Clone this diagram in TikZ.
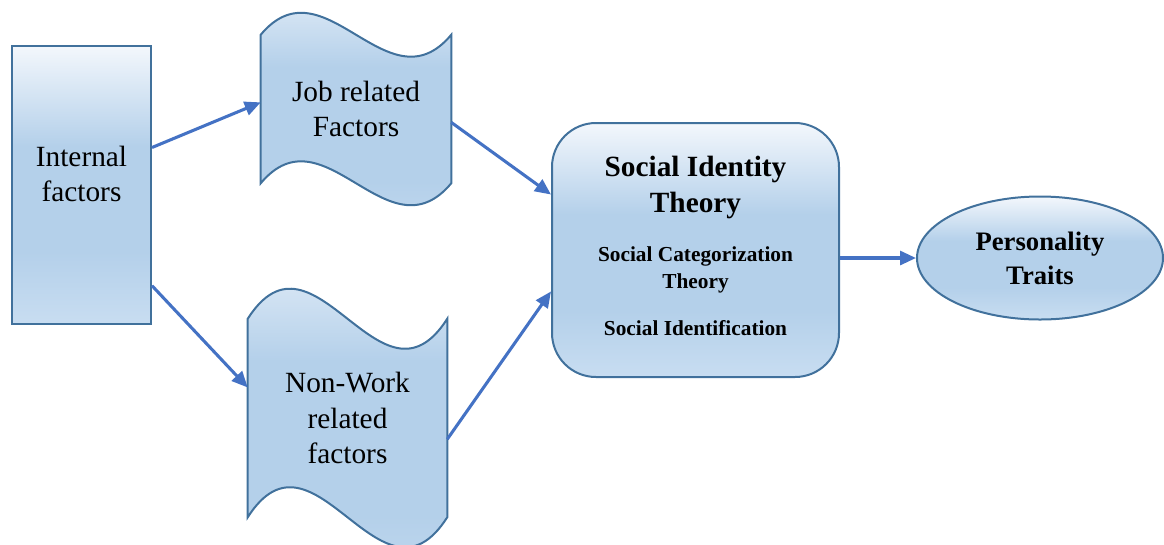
\documentclass[tikz,border=0pt]{standalone}
\usepackage{fontspec}
\setmainfont{Liberation Serif}
\usepackage{tikz}
\usetikzlibrary{arrows.meta, shapes.geometric, calc, backgrounds}

\definecolor{boxline}{RGB}{65,113,156}
\definecolor{flowblue}{RGB}{68,114,196}
\definecolor{filltop}{RGB}{243,247,252}
\definecolor{fillmid}{RGB}{180,208,234}
\definecolor{fillbot}{RGB}{200,221,241}

% light blue fill, white at the top
\pgfdeclareverticalshading{lightblue}{100bp}{color(0bp)=(fillbot); color(25bp)=(fillbot);
  color(38bp)=(fillmid); color(57bp)=(fillmid); color(75bp)=(filltop); color(100bp)=(filltop)}

% wavy outline drawn round a borderless node, #2 = how far the waves swing
\newcommand{\waveshape}[2]{%
  \path[wave] (#1.north west)
    .. controls ($(#1.north west)!1/3!(#1.north east)+(0,-#2)$)
           and ($(#1.north west)!2/3!(#1.north east)+(0,#2)$) .. (#1.north east)
    -- (#1.south east)
    .. controls ($(#1.south west)!2/3!(#1.south east)+(0,#2)$)
           and ($(#1.south west)!1/3!(#1.south east)+(0,-#2)$) .. (#1.south west)
    -- cycle;}

\begin{document}
\begin{tikzpicture}[x=0.75pt,y=-0.75pt,>={Triangle[length=12pt,width=10.5pt]},
                    font=\fontsize{22}{26.5}\selectfont]

  \tikzset{box/.style={draw=boxline, line width=1.5pt, shade, shading=lightblue,
                       align=center, inner sep=0pt},
           tape/.style={align=center, inner sep=0pt},
           wave/.style={draw=boxline, line width=1.5pt, shade, shading=lightblue},
           flow/.style={->, color=flowblue, line width=2.3pt}}

  \useasboundingbox (0,0) rectangle (1164,544);

  \node[box, minimum width=104.25pt, minimum height=208.5pt, text depth=17pt] (int) at (81.5,185) {Internal\\factors};
  \node[tape, minimum width=142.5pt, minimum height=111pt] (job) at (356,109) {Job related\\Factors};
  \node[tape, minimum width=149.25pt, minimum height=148.5pt] (non) at (347.5,418) {Non-Work\\related\\factors};
  \node[box, rounded corners=33pt, minimum width=215.25pt, minimum height=190.5pt, text depth=6pt,
        font=\fontsize{16}{20.25}\selectfont\bfseries] (sit) at (695.5,250)
       {\fontsize{22}{27}\selectfont Social Identity\\[6.75pt]
        \fontsize{22}{27}\selectfont Theory\\[16.5pt]
        Social Categorization\\
        Theory\\[15pt]
        Social Identification};
  \node[box, ellipse, minimum width=184.5pt, minimum height=92.25pt,
        font=\fontsize{20}{25.5}\selectfont\bfseries] (pers) at (1040,258) {Personality\\Traits};

  \begin{scope}[on background layer]
    \waveshape{job}{76}
    \waveshape{non}{104}
  \end{scope}

  \path[flow]
  (int.28)  edge (job.176)
  (int.-55) edge (non.163)
  (job.-8)  edge (sit.159)
  (non.-12) edge (sit.196)
  (pers.west -| sit.east) edge (pers.west);
\end{tikzpicture}
\end{document}
